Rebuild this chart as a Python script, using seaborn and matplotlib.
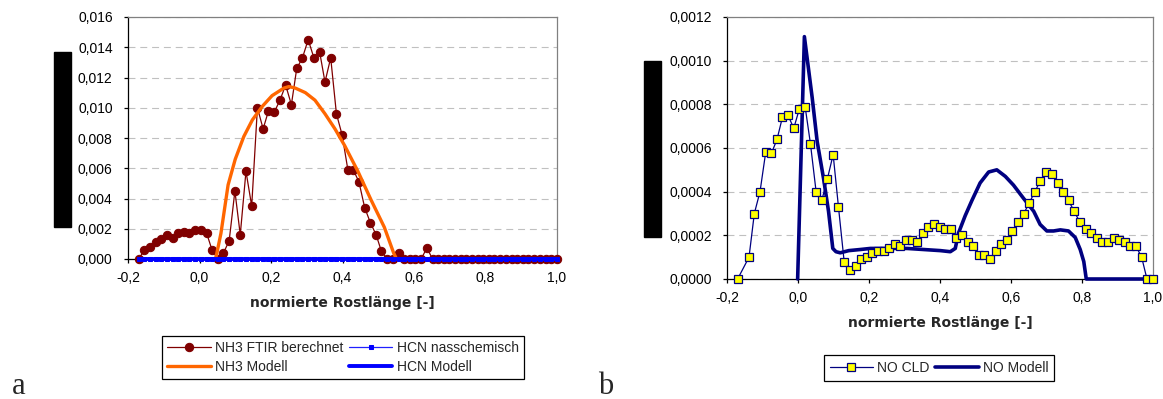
import matplotlib
matplotlib.use("Agg")
import matplotlib.pyplot as plt
import seaborn as sns
from matplotlib.ticker import FuncFormatter, MultipleLocator
from matplotlib.patches import Rectangle

# ---------------- data ----------------
x_ftir = [-0.170, -0.154, -0.138, -0.123, -0.107, -0.091, -0.075, -0.059, -0.044, -0.028,
          -0.012, 0.004, 0.020, 0.035, 0.051, 0.067, 0.083, 0.099, 0.114, 0.130,
          0.146, 0.162, 0.178, 0.193, 0.209, 0.225, 0.241, 0.257, 0.272, 0.288,
          0.304, 0.320, 0.336, 0.351, 0.367, 0.383, 0.399, 0.415, 0.430, 0.446,
          0.462, 0.478, 0.494, 0.509, 0.525, 0.541, 0.557, 0.573, 0.588, 0.604,
          0.620, 0.636, 0.652, 0.667, 0.683, 0.699, 0.715, 0.731, 0.746, 0.762,
          0.778, 0.794, 0.810, 0.825, 0.841, 0.857, 0.873, 0.889, 0.904, 0.920,
          0.936, 0.952, 0.968, 0.983, 1.000]
nh3_ftir = [0.0, 0.0006, 0.0008, 0.0011, 0.00135, 0.0016, 0.0014, 0.0017, 0.0018, 0.0017,
            0.0019, 0.0019, 0.0017, 0.0006, 0.0, 0.0004, 0.0012, 0.0045, 0.0016, 0.0058,
            0.0035, 0.0100, 0.0086, 0.0098, 0.0097, 0.0105, 0.0115, 0.0102, 0.0126, 0.0133,
            0.0145, 0.0133, 0.0137, 0.0117, 0.0133, 0.0096, 0.0082, 0.0059, 0.0059, 0.0051,
            0.0034, 0.0024, 0.0016, 0.0005, 0.0, 0.0, 0.0004, 0.0, 0.0, 0.0,
            0.0, 0.00073, 0.0, 0.0, 0.0, 0.0, 0.0, 0.0, 0.0, 0.0,
            0.0, 0.0, 0.0, 0.0, 0.0, 0.0, 0.0, 0.0, 0.0, 0.0,
            0.0, 0.0, 0.0, 0.0, 0.0]
hcn_nass = [0.0] * len(x_ftir)

x_nh3_mod = [0.042, 0.046, 0.060, 0.080, 0.100, 0.124, 0.148, 0.176, 0.203, 0.236,
             0.250, 0.268, 0.296, 0.323, 0.351, 0.379, 0.406, 0.443, 0.480, 0.517,
             0.543, 0.551]
nh3_modell = [0.0, 0.0001, 0.0017, 0.0049, 0.0066, 0.0081, 0.0092, 0.0101, 0.0108, 0.0113,
              0.0114, 0.0113, 0.0110, 0.0105, 0.0096, 0.0086, 0.0075, 0.0058, 0.0039, 0.0021,
              0.0004, 0.0]

x_hcn_mod = [-0.170, 1.000]
hcn_modell = [0.0, 0.0]

x_cld = [-0.170, -0.138, -0.123, -0.107, -0.091, -0.075, -0.059, -0.044, -0.028,
         -0.012, 0.004, 0.020, 0.035, 0.051, 0.067, 0.083, 0.099, 0.114, 0.130,
         0.146, 0.162, 0.178, 0.193, 0.209, 0.225, 0.241, 0.257, 0.272, 0.288,
         0.304, 0.320, 0.336, 0.351, 0.367, 0.383, 0.399, 0.415, 0.430, 0.446,
         0.462, 0.478, 0.494, 0.509, 0.525, 0.541, 0.557, 0.573, 0.588, 0.604,
         0.620, 0.636, 0.652, 0.667, 0.683, 0.699, 0.715, 0.731, 0.746, 0.762,
         0.778, 0.794, 0.810, 0.825, 0.841, 0.857, 0.873, 0.889, 0.904, 0.920,
         0.936, 0.952, 0.968, 0.983, 1.000]
no_cld = [0.0, 0.0001, 0.0003, 0.0004, 0.00058, 0.000575, 0.00064, 0.00074, 0.00075,
          0.00069, 0.00078, 0.00079, 0.00062, 0.0004, 0.00036, 0.00046, 0.00057, 0.00033, 0.00008,
          0.00004, 0.00006, 0.00009, 0.0001, 0.00012, 0.00013, 0.00013, 0.00014, 0.00016, 0.00015,
          0.00018, 0.00018, 0.00017, 0.00021, 0.00024, 0.00025, 0.00024, 0.00023, 0.00023, 0.00019,
          0.0002, 0.00017, 0.00015, 0.00011, 0.00011, 0.00009, 0.00013, 0.00016, 0.00018, 0.00022,
          0.00026, 0.0003, 0.00035, 0.0004, 0.00045, 0.00049, 0.00048, 0.00044, 0.0004, 0.00036,
          0.00031, 0.00026, 0.00023, 0.00021, 0.00019, 0.00017, 0.00017, 0.00019, 0.00018, 0.00017,
          0.00015, 0.00015, 0.0001, 0.0, 0.0]

x_no_mod = [-0.001, 0.018, 0.040, 0.054, 0.072, 0.086, 0.098, 0.107, 0.119, 0.143,
            0.175, 0.204, 0.260, 0.307, 0.354, 0.401, 0.429, 0.443, 0.452, 0.471,
            0.490, 0.513, 0.537, 0.560, 0.584, 0.607, 0.635, 0.664, 0.682, 0.701,
            0.720, 0.739, 0.762, 0.781, 0.795, 0.805, 0.812, 1.000]
no_modell = [0.0, 0.00111, 0.00083, 0.00063, 0.00046, 0.00031, 0.00014, 0.000125, 0.00012, 0.00013,
             0.000135, 0.00014, 0.00014, 0.00014, 0.000135, 0.00013, 0.000125, 0.00014, 0.00021, 0.00029,
             0.00036, 0.00044, 0.00049, 0.0005, 0.00047, 0.00043, 0.00037, 0.00031, 0.00025, 0.00022,
             0.00022, 0.000225, 0.00022, 0.00019, 0.000135, 0.00008, 0.0, 0.0]

x_ticks_label = "normierte Rostlänge [-]"
labels_left = ["NH3 FTIR berechnet", "NH3 Modell", "HCN nasschemisch", "HCN Modell"]
labels_right = ["NO CLD", "NO Modell"]

# ---------------- styling ----------------
sns.set_style("white")
plt.rcParams["font.family"] = ["Liberation Sans", "DejaVu Sans"]
plt.rcParams["lines.scale_dashes"] = False

W, H = 1163, 399
fig = plt.figure(figsize=(W / 100, H / 100), dpi=100)
fig.patch.set_facecolor("white")

ax1 = fig.add_axes([128 / W, 1 - 259 / H, (557 - 128) / W, (259 - 17) / H])
ax2 = fig.add_axes([727 / W, 1 - 279 / H, (1153 - 727) / W, (279 - 17) / H])


def style(ax, ymax, ystep, ydec, label_y):
    ax.set_facecolor("white")
    ax.set_xlim(-0.2, 1.0)
    ax.set_ylim(0, ymax)
    ax.xaxis.set_major_locator(MultipleLocator(0.2))
    ax.yaxis.set_major_locator(MultipleLocator(ystep))
    ax.xaxis.set_major_formatter(FuncFormatter(lambda v, p: f"{v:.1f}".replace(".", ",").replace("-0,0", "0,0")))
    ax.yaxis.set_major_formatter(FuncFormatter(lambda v, p: f"{v:.{ydec}f}".replace(".", ",")))
    ax.grid(axis="y", color="#C0C0C0", linestyle=(0, (5, 3.5)), linewidth=0.8)
    ax.grid(axis="x", visible=False)
    ax.set_axisbelow(True)
    for s in ("left", "bottom"):
        ax.spines[s].set_color("black")
        ax.spines[s].set_linewidth(0.9)
    for s in ("top", "right"):
        ax.spines[s].set_color("#808080")
        ax.spines[s].set_linewidth(0.9)
    ax.tick_params(axis="both", direction="out", length=3, width=0.9, color="black",
                   labelsize=10, labelcolor="black", left=True, bottom=True, top=False, right=False)
    ax.tick_params(axis="y", pad=8)
    ax.tick_params(axis="x", pad=6)
    ax.set_ylabel("")
    ax.set_xlabel(x_ticks_label, family="DejaVu Sans", fontweight="bold", fontsize=10)
    ax.xaxis.set_label_coords(0.5, label_y)


# ---------------- left chart ----------------
sns.lineplot(x=x_ftir, y=nh3_ftir, ax=ax1, color="#800000", linewidth=0.9, marker="o",
             markersize=6, markeredgecolor="#800000", markerfacecolor="#800000",
             estimator=None, sort=False, clip_on=False, zorder=3)
h_ftir = ax1.lines[-1]
sns.lineplot(x=x_ftir, y=hcn_nass, ax=ax1, color="#2020FF", linewidth=0.9, marker="s",
             markersize=3, markeredgecolor="#0000FF", markerfacecolor="#0000FF",
             estimator=None, sort=False, clip_on=False, zorder=3.5)
h_hcn_nass = ax1.lines[-1]
sns.lineplot(x=x_nh3_mod, y=nh3_modell, ax=ax1, color="#FF6600", linewidth=2.4,
             estimator=None, sort=False, clip_on=False, zorder=4,
             solid_capstyle="round", solid_joinstyle="round")
h_nh3m = ax1.lines[-1]
sns.lineplot(x=x_hcn_mod, y=hcn_modell, ax=ax1, color="#0000FF", linewidth=2.8,
             estimator=None, sort=False, clip_on=False, zorder=5, solid_capstyle="round")
h_hcnm = ax1.lines[-1]
style(ax1, 0.016, 0.002, 3, -(296 - 259) / (259 - 17))

# ---------------- right chart ----------------
sns.lineplot(x=x_no_mod, y=no_modell, ax=ax2, color="#000080", linewidth=2.6,
             estimator=None, sort=False, clip_on=False, zorder=3,
             solid_capstyle="round", solid_joinstyle="round")
h_nom = ax2.lines[-1]
sns.lineplot(x=x_cld, y=no_cld, ax=ax2, color="#000080", linewidth=0.9, marker="s",
             markersize=5.5, markeredgecolor="#000080", markerfacecolor="#FFFF00",
             markeredgewidth=0.9, estimator=None, sort=False, clip_on=False, zorder=4)
h_cld = ax2.lines[-1]
style(ax2, 0.0012, 0.0002, 4, -(316 - 279) / (279 - 17))

for ax in (ax1, ax2):
    if ax.get_legend() is not None:
        ax.get_legend().remove()

# ---------------- legends ----------------
leg1 = fig.legend(handles=[h_ftir, h_nh3m, h_hcn_nass, h_hcnm], labels=labels_left, ncol=2,
                  loc="center", bbox_to_anchor=(343 / W, 1 - 357.5 / H), fontsize=10,
                  frameon=True, fancybox=False, edgecolor="black", framealpha=1,
                  handlelength=3.1, handletextpad=0.3, columnspacing=0.45,
                  borderpad=0.4, labelspacing=0.35)
leg1.get_frame().set_linewidth(0.9)
leg2 = fig.legend(handles=[h_cld, h_nom], labels=labels_right, ncol=2,
                  loc="center", bbox_to_anchor=(939 / W, 1 - 368 / H), fontsize=10,
                  frameon=True, fancybox=False, edgecolor="black", framealpha=1,
                  handlelength=3.1, handletextpad=0.3, columnspacing=0.45,
                  borderpad=0.4)
leg2.get_frame().set_linewidth(0.9)

# ---------------- redaction bars and panel letters ----------------
fig.patches.append(Rectangle((54 / W, 1 - 227 / H), 17 / W, 175 / H,
                             transform=fig.transFigure, color="black", zorder=10))
fig.patches.append(Rectangle((644 / W, 1 - 237 / H), 17 / W, 176 / H,
                             transform=fig.transFigure, color="black", zorder=10))
fig.text(12 / W, 1 - 394 / H, "a", family="Liberation Serif", fontsize=22, va="baseline", ha="left")
fig.text(598 / W, 1 - 394 / H, "b", family="Liberation Serif", fontsize=22, va="baseline", ha="left")

fig.savefig("out.png", dpi=100, facecolor="white")
